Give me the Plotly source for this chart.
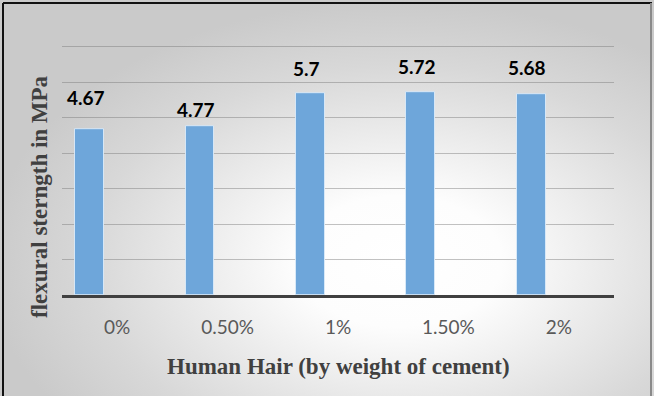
import plotly.graph_objects as go

# Flexural strength of concrete with human hair fibre added
categories = ["0%", "0.50%", "1%", "1.50%", "2%"]
strength = [4.67, 4.77, 5.7, 5.72, 5.68]
label_lift = [32, 16, 25, 26, 26]  # px above each bar top for the value labels

W, H = 654, 396
PX0, PX1 = 62, 614          # plot area, horizontal pixels
Y_BASE, PX_PER_UNIT = 295, 35.43
Y_MAX = 7.05
PY0 = Y_BASE - Y_MAX * PX_PER_UNIT

fig = go.Figure()

# soft radial backdrop covering the whole chart area
fig.add_trace(go.Scatter(
    x=[-0.02, 1.24, 1.24, -0.02, -0.02],
    y=[-0.32, -0.32, 1.0, 1.0, -0.32],
    mode="lines", line=dict(width=0), fill="toself",
    fillgradient=dict(type="radial",
                      colorscale=[[0, "#ffffff"], [0.25, "#fdfdfd"],
                                  [0.75, "#d8d8d8"], [1, "#cacaca"]]),
    hoverinfo="skip", showlegend=False, xaxis="x", yaxis="y",
))

fig.add_trace(go.Bar(
    x=categories, y=strength,
    width=0.26, offset=-0.38,
    marker=dict(color="#6ea6da", line=dict(color="rgba(220,235,250,0.9)", width=1)),
    xaxis="x2", yaxis="y2", showlegend=False,
))

annotations = []
for i, (v, lift) in enumerate(zip(strength, label_lift)):
    annotations.append(dict(
        x=i - 0.25, y=v, xref="x2", yref="y2", text=f"{v:g}",
        showarrow=False, xshift=-4, yshift=lift, yanchor="middle",
        font=dict(family="Lato", size=19, color="#000000", weight="bold"),
    ))

annotations.append(dict(
    x=40 / W, y=1 - 197 / H, xref="paper", yref="paper",
    xanchor="center", yanchor="middle",
    text="flexural sterngth in MPa", textangle=-90, showarrow=False,
    font=dict(family="Liberation Serif", size=23, color="#404040", weight="bold"),
))
annotations.append(dict(
    x=338 / W, y=1 - 366 / H, xref="paper", yref="paper",
    xanchor="center", yanchor="middle",
    text="Human Hair (by weight of cement)", showarrow=False,
    font=dict(family="Liberation Serif", size=23, color="#404040", weight="bold"),
))

shapes = [
    dict(type="line", xref="paper", yref="paper", x0=3 / W, x1=3 / W, y0=0, y1=1 - 3 / H,
         line=dict(color="#111111", width=2)),
    dict(type="line", xref="paper", yref="paper", x0=3 / W, x1=652 / W, y0=1 - 3 / H, y1=1 - 3 / H,
         line=dict(color="#111111", width=2)),
    dict(type="line", xref="paper", yref="paper", x0=651 / W, x1=651 / W, y0=0, y1=1 - 3 / H,
         line=dict(color="#8a8a8a", width=2)),
]

fig.update_layout(
    width=W, height=H,
    margin=dict(l=0, r=0, t=0, b=0),
    paper_bgcolor="#ffffff", plot_bgcolor="rgba(0,0,0,0)",
    xaxis=dict(domain=[0, 1], range=[0, 1], visible=False, fixedrange=True),
    yaxis=dict(domain=[0, 1], range=[0, 1], visible=False, fixedrange=True),
    xaxis2=dict(domain=[PX0 / W, PX1 / W], anchor="y2", type="category",
                showgrid=False, showline=True, linecolor="#404040", linewidth=3,
                ticks="", ticklabelstandoff=13,
                tickfont=dict(family="Lato", size=19, color="#595959")),
    yaxis2=dict(domain=[1 - Y_BASE / H, 1 - PY0 / H], anchor="x2",
                range=[0, Y_MAX], dtick=1, showticklabels=False, ticks="",
                showgrid=True, gridcolor="rgba(120,120,120,0.45)", gridwidth=1,
                zeroline=False, showline=False),
    annotations=annotations,
    shapes=shapes,
    bargap=0,
)

fig.write_html("out.html")
